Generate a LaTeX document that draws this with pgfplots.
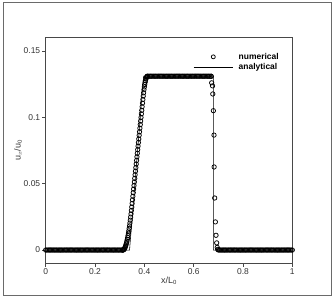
\documentclass[border=0pt]{standalone}
\usepackage{pgfplots}
\pgfplotsset{compat=1.18}
\usepackage{fontspec}
\setmainfont{Liberation Sans}
\definecolor{axgray}{HTML}{484848}
\definecolor{framegray}{HTML}{6A6A6A}
\begin{document}
\begin{tikzpicture}
\useasboundingbox (0,0) rectangle (332bp,299bp);
\draw[framegray, line width=1bp] (3bp,3.5bp) rectangle (331bp,296bp);
\begin{axis}[
  at={(45.7bp,35.7bp)}, anchor=south west,
  scale only axis, width=246.6bp, height=225.6bp,
  xmin=0, xmax=1, ymin=-0.01, ymax=0.16,
  clip=false,
  axis line style={axgray, line width=0.9bp},
  tick style={axgray, line width=0.8bp},
  tick align=outside, tick pos=left, major tick length=3.5bp,
  xtick={0,0.2,0.4,0.6,0.8,1}, xticklabels={0,0.2,0.4,0.6,0.8,1},
  ytick={0,0.05,0.1,0.15}, yticklabels={0,0.05,0.1,0.15},
  ticklabel style={font=\fontsize{8.5}{10}\selectfont, text=black!80},
  xticklabel style={yshift=1.5bp},
  yticklabel style={xshift=1.5bp},
  xlabel={x/L$_{\mathrm{0}}$}, ylabel={u$_{x}$/u$_{\mathrm{0}}$},
  label style={font=\fontsize{9}{10}\selectfont, text=black!80},
  xlabel style={yshift=5bp},
  ylabel style={yshift=-5bp},
  legend style={draw=none, fill=none, at={(0.599,0.934)}, anchor=north west,
    inner sep=0pt, outer sep=0pt, row sep=1.5bp, column sep=5bp,
    font=\bfseries\fontsize{8.5}{10}\selectfont,
    nodes={inner sep=0.5bp, text height=6bp, text depth=1.5bp}},
  legend cell align=left,
]
\addplot[only marks, mark=o, mark size=2.2pt, black, mark options={line width=0.75pt},
  legend image code/.code={\draw[mark=o, mark size=2.0pt, line width=0.65pt] plot coordinates {(0.69cm,0cm)};}]
coordinates {
(0,0)(0.005,0)(0.01,0)(0.015,0)(0.02,0)(0.025,0)(0.03,0)(0.035,0)(0.04,0)(0.045,0)
(0.05,0)(0.055,0)(0.06,0)(0.065,0)(0.07,0)(0.075,0)(0.08,0)(0.085,0)(0.09,0)(0.095,0)
(0.1,0)(0.105,0)(0.11,0)(0.115,0)(0.12,0)(0.125,0)(0.13,0)(0.135,0)(0.14,0)(0.145,0)
(0.15,0)(0.155,0)(0.16,0)(0.165,0)(0.17,0)(0.175,0)(0.18,0)(0.185,0)(0.19,0)(0.195,0)
(0.2,0)(0.205,0)(0.21,0)(0.215,0)(0.22,0)(0.225,0)(0.23,0)(0.235,0)(0.24,0)(0.245,0)
(0.25,0)(0.255,0)(0.26,0)(0.265,0)(0.27,0)(0.275,0)(0.28,0)(0.285,0)(0.29,0)(0.295,0)
(0.3,0)(0.305,0)
(0.3100,0)(0.3115,0)(0.3130,0)(0.3145,0.0001)(0.3160,0.0002)(0.3175,0.0005)(0.3190,0.0009)
(0.3205,0.0014)(0.3220,0.0020)(0.3235,0.0028)(0.3250,0.0036)(0.3265,0.0046)(0.3280,0.0056)
(0.3295,0.0068)(0.3310,0.0081)(0.3325,0.0095)(0.3340,0.0110)(0.3355,0.0127)(0.3370,0.0144)
(0.3385,0.0163)(0.3400,0.0182)(0.3415,0.0203)(0.3430,0.0225)(0.3445,0.0248)(0.3460,0.0272)
(0.3475,0.0298)(0.3490,0.0324)(0.3505,0.0351)(0.3520,0.0378)(0.3535,0.0405)(0.3550,0.0432)
(0.3565,0.0459)(0.3580,0.0486)(0.3595,0.0513)(0.3610,0.0540)(0.3625,0.0567)(0.3640,0.0594)
(0.3655,0.0621)(0.3670,0.0648)(0.3685,0.0675)(0.3700,0.0702)(0.3715,0.0729)(0.3730,0.0756)
(0.3745,0.0783)(0.3760,0.0810)(0.3775,0.0837)(0.3790,0.0864)(0.3805,0.0891)(0.3820,0.0918)
(0.3835,0.0945)(0.3850,0.0972)(0.3865,0.0999)(0.3880,0.1026)(0.3895,0.1053)(0.3910,0.1080)
(0.3925,0.1107)(0.3940,0.1134)(0.3955,0.1160)(0.3970,0.1185)(0.3985,0.1208)(0.4000,0.1229)
(0.4015,0.1247)(0.4030,0.1263)(0.4045,0.1276)(0.4060,0.1288)(0.4075,0.1297)(0.4090,0.1303)
(0.4105,0.1308)(0.4120,0.1310)
(0.415,0.131)(0.42,0.131)(0.425,0.131)(0.43,0.131)(0.435,0.131)(0.44,0.131)(0.445,0.131)
(0.45,0.131)(0.455,0.131)(0.46,0.131)(0.465,0.131)(0.47,0.131)(0.475,0.131)(0.48,0.131)
(0.485,0.131)(0.49,0.131)(0.495,0.131)(0.5,0.131)(0.505,0.131)(0.51,0.131)(0.515,0.131)
(0.52,0.131)(0.525,0.131)(0.53,0.131)(0.535,0.131)(0.54,0.131)(0.545,0.131)(0.55,0.131)
(0.555,0.131)(0.56,0.131)(0.565,0.131)(0.57,0.131)(0.575,0.131)(0.58,0.131)(0.585,0.131)
(0.59,0.131)(0.595,0.131)(0.6,0.131)(0.605,0.131)(0.61,0.131)(0.615,0.131)(0.62,0.131)
(0.625,0.131)(0.63,0.131)(0.635,0.131)(0.64,0.131)(0.645,0.131)(0.65,0.131)(0.655,0.131)
(0.66,0.131)(0.665,0.131)(0.67,0.131)
(0.6715,0.1309)(0.6730,0.1260)(0.6765,0.1237)(0.6775,0.1176)(0.6800,0.1050)(0.6825,0.0866)
(0.6830,0.0626)(0.6853,0.0392)(0.6880,0.0212)(0.6907,0.0111)(0.6934,0.0054)(0.6955,0.0020)
(0.6975,0.0005)
(0.7,0)(0.705,0)(0.71,0)(0.715,0)(0.72,0)(0.725,0)(0.73,0)(0.735,0)(0.74,0)(0.745,0)
(0.75,0)(0.755,0)(0.76,0)(0.765,0)(0.77,0)(0.775,0)(0.78,0)(0.785,0)(0.79,0)(0.795,0)
(0.8,0)(0.805,0)(0.81,0)(0.815,0)(0.82,0)(0.825,0)(0.83,0)(0.835,0)(0.84,0)(0.845,0)
(0.85,0)(0.855,0)(0.86,0)(0.865,0)(0.87,0)(0.875,0)(0.88,0)(0.885,0)(0.89,0)(0.895,0)
(0.9,0)(0.905,0)(0.91,0)(0.915,0)(0.92,0)(0.925,0)(0.93,0)(0.935,0)(0.94,0)(0.945,0)
(0.95,0)(0.955,0)(0.96,0)(0.965,0)(0.97,0)(0.975,0)(0.98,0)(0.985,0)(0.99,0)(0.995,0)
(1,0)
};
\addlegendentry{numerical}
\addplot[black, line width=0.55pt,
  legend image code/.code={\draw[black, line width=0.65pt] (0cm,0cm) -- (1.38cm,0cm);}]
coordinates {(0,0)(0.340,0)(0.397,0.131)(0.680,0.131)(0.680,0)(1,0)};
\addlegendentry{analytical}
\end{axis}
\end{tikzpicture}
\end{document}
